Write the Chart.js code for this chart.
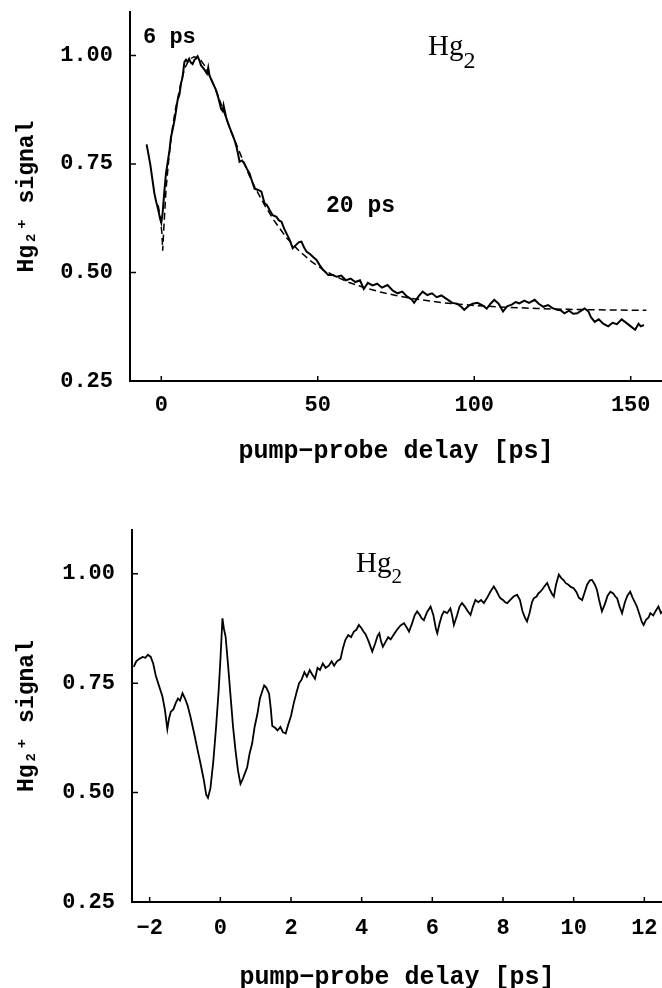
<!DOCTYPE html>
<html>
<head>
<meta charset="utf-8">
<script src="https://cdn.jsdelivr.net/npm/chart.js@4/dist/chart.umd.min.js"></script>
<style>
  html, body { margin: 0; padding: 0; background: #fff; overflow: hidden; }
  #wrap { position: relative; width: 662px; height: 988px; overflow: hidden; }
  canvas { position: absolute; left: 0; }
  #c1 { top: 0; }
  #c2 { top: 490px; }
</style>
</head>
<body>
<div id="wrap">
  <canvas id="c1" width="662" height="490"></canvas>
  <canvas id="c2" width="662" height="510"></canvas>
</div>
<script>
// ---------- data ----------
const topDelay = [-4.7,-4.1,-3.5,-2.8,-2.2,-1.6,-1.0,-0.5,0,0.4,0.9,1.5,2.0,2.6,3.1,3.6,4.2,4.7,5.2,5.8,6.3,6.8,7.4,7.9,8.4,8.9,9.4,10.0,10.6,11.1,11.6,12.2,12.7,13.3,14.0,14.6,15.0,15.4,16.2,17.0,17.5,18.3,19.1,19.6,19.9,20.8,21.8,22.6,23.4,24.0,24.5,25.0,25.8,26.6,27.4,28.2,29.0,29.8,31.0,32.0,33.0,33.8,34.6,35.6,36.8,37.6,38.4,39.2,40.0,41.0,42.0,43.0,44.0,44.8,45.6,46.4,47.6,48.6,49.6,50.6,51.7,52.6,53.3,54.8,56,57.5,59,60.5,62,63.5,64.7,66,67.5,69,70.5,72.3,74,75.5,77,78.5,80,80.8,82.2,83.5,85,86.5,88,89.5,91.6,93,94.5,96,96.8,98.2,99.5,101,102.5,104,105.2,106.4,107.8,109.2,110.5,112,113.2,114.4,116,117.5,119.3,120.6,122.1,123.6,125,126.5,127.6,128.8,130.3,131.6,132.9,134.2,135.3,136.5,137.3,138.5,139.8,141.2,142.8,144.2,145.6,147.1,148.4,149.8,151.4,152.5,153.2,154.2];
const topSignal = [0.795,0.772,0.748,0.712,0.682,0.662,0.645,0.628,0.615,0.635,0.68,0.728,0.752,0.78,0.812,0.828,0.85,0.872,0.897,0.91,0.935,0.95,0.985,0.99,0.985,0.992,0.984,0.98,0.99,0.993,0.998,0.988,0.977,0.972,0.965,0.958,0.972,0.954,0.94,0.928,0.92,0.9,0.877,0.872,0.885,0.855,0.835,0.82,0.805,0.79,0.774,0.755,0.758,0.75,0.738,0.728,0.71,0.693,0.69,0.686,0.659,0.655,0.644,0.632,0.628,0.62,0.617,0.602,0.59,0.575,0.556,0.563,0.57,0.571,0.558,0.548,0.542,0.535,0.529,0.517,0.506,0.5,0.494,0.494,0.49,0.493,0.482,0.486,0.478,0.482,0.462,0.476,0.47,0.474,0.465,0.471,0.458,0.452,0.456,0.445,0.438,0.43,0.445,0.456,0.448,0.452,0.443,0.447,0.437,0.43,0.428,0.42,0.414,0.423,0.428,0.43,0.425,0.417,0.428,0.437,0.428,0.41,0.422,0.426,0.432,0.429,0.435,0.43,0.437,0.428,0.421,0.425,0.418,0.414,0.413,0.406,0.412,0.405,0.406,0.412,0.417,0.41,0.397,0.386,0.392,0.382,0.376,0.384,0.381,0.392,0.385,0.377,0.368,0.382,0.376,0.379];

const fitDelay = [-1.0,-0.3,0.2,0.45,0.8,1.5,2.5,3.5,4.5,5.5,6.5,7.5,8.5,9.5,10.5,11.5,12.5,14,16,18,20,22,24,26,28,30,33,36,40,44,48,52,56,60,65,70,75,80,90,100,110,120,130,140,150,155];
const fitSignal = [0.655,0.625,0.59,0.55,0.60,0.69,0.77,0.83,0.875,0.91,0.945,0.97,0.985,0.993,0.997,0.995,0.99,0.975,0.945,0.91,0.87,0.83,0.795,0.76,0.725,0.695,0.655,0.62,0.58,0.55,0.525,0.505,0.49,0.477,0.465,0.455,0.447,0.44,0.43,0.424,0.42,0.417,0.415,0.414,0.413,0.413];

const botDelay = [-2.45,-2.38,-2.3,-2.2,-2.12,-2.05,-1.97,-1.9,-1.83,-1.74,-1.64,-1.57,-1.5,-1.45,-1.4,-1.33,-1.26,-1.2,-1.14,-1.07,-1.0,-0.93,-0.85,-0.74,-0.65,-0.56,-0.47,-0.4,-0.35,-0.28,-0.2,-0.12,-0.05,0.0,0.06,0.1,0.15,0.22,0.29,0.36,0.43,0.5,0.57,0.63,0.7,0.76,0.83,0.9,0.97,1.05,1.12,1.2,1.24,1.3,1.38,1.43,1.47,1.55,1.62,1.7,1.77,1.85,1.92,2.0,2.08,2.16,2.23,2.3,2.38,2.45,2.53,2.6,2.68,2.75,2.82,2.9,2.98,3.07,3.15,3.22,3.3,3.4,3.47,3.54,3.62,3.7,3.78,3.85,3.92,4.0,4.05,4.11,4.2,4.3,4.38,4.45,4.5,4.55,4.6,4.68,4.75,4.82,4.9,5.0,5.1,5.2,5.27,5.34,5.42,5.5,5.57,5.65,5.7,5.76,5.85,5.95,6.03,6.1,6.14,6.2,6.27,6.33,6.42,6.51,6.56,6.61,6.7,6.77,6.84,6.92,7.0,7.08,7.15,7.22,7.3,7.38,7.46,7.55,7.65,7.74,7.82,7.88,7.93,8.0,8.06,8.12,8.2,8.3,8.4,8.48,8.55,8.62,8.68,8.75,8.82,8.87,8.95,9.0,9.06,9.12,9.18,9.25,9.32,9.38,9.44,9.5,9.58,9.65,9.72,9.77,9.85,9.92,10.0,10.08,10.15,10.24,10.3,10.38,10.46,10.52,10.6,10.66,10.72,10.8,10.88,10.96,11.04,11.12,11.18,11.23,11.3,11.37,11.45,11.52,11.6,11.67,11.73,11.79,11.87,11.93,11.98,12.05,12.12,12.17,12.25,12.32,12.4,12.47,12.55];
const botSignal = [0.787,0.80,0.805,0.81,0.808,0.815,0.81,0.795,0.768,0.745,0.72,0.69,0.645,0.67,0.685,0.69,0.705,0.715,0.71,0.727,0.715,0.70,0.675,0.635,0.60,0.566,0.53,0.495,0.488,0.51,0.57,0.65,0.73,0.80,0.898,0.875,0.856,0.79,0.72,0.65,0.596,0.55,0.52,0.53,0.545,0.558,0.59,0.612,0.65,0.68,0.715,0.735,0.745,0.74,0.726,0.69,0.652,0.648,0.642,0.65,0.638,0.635,0.655,0.675,0.705,0.73,0.75,0.758,0.775,0.765,0.78,0.77,0.76,0.785,0.78,0.795,0.785,0.79,0.8,0.79,0.8,0.805,0.83,0.849,0.86,0.855,0.868,0.872,0.883,0.875,0.868,0.862,0.845,0.822,0.84,0.858,0.864,0.845,0.833,0.845,0.855,0.85,0.86,0.872,0.882,0.887,0.878,0.868,0.885,0.905,0.914,0.905,0.898,0.894,0.912,0.925,0.905,0.875,0.864,0.885,0.905,0.914,0.91,0.921,0.905,0.883,0.905,0.925,0.933,0.925,0.915,0.906,0.925,0.94,0.935,0.94,0.933,0.945,0.96,0.971,0.96,0.95,0.944,0.94,0.935,0.933,0.94,0.948,0.952,0.94,0.915,0.9,0.891,0.91,0.935,0.944,0.948,0.955,0.959,0.965,0.972,0.979,0.965,0.955,0.948,0.975,0.998,0.99,0.985,0.979,0.975,0.97,0.967,0.958,0.945,0.94,0.955,0.975,0.985,0.986,0.975,0.963,0.94,0.914,0.93,0.95,0.959,0.955,0.948,0.944,0.925,0.91,0.935,0.95,0.959,0.945,0.935,0.925,0.905,0.89,0.883,0.895,0.9,0.91,0.905,0.915,0.925,0.91,0.917];

const topXTicks = [0, 50, 100, 150];
const botXTicks = [-2, 0, 2, 4, 6, 8, 10, 12];
const yTicks = [0.25, 0.50, 0.75, 1.00];
const xTitle = 'pump\u2212probe delay [ps]';
const yTitle = 'Hg\u2082\u207A signal';

// ---------- helpers ----------
const MONO = '"Liberation Mono", "DejaVu Sans Mono", monospace';
const SERIF = '"Liberation Serif", "DejaVu Serif", serif';
const pts = (xs, ys) => xs.map((x, i) => ({ x: x, y: ys[i] }));
const fmtX = v => (v < 0 ? '\u2212' + Math.abs(v) : String(v));

const inwardTicks = {
  id: 'inwardTicks',
  afterDraw(chart) {
    const ctx = chart.ctx, a = chart.chartArea;
    const xs = chart.scales.x, ys = chart.scales.y;
    ctx.save();
    ctx.strokeStyle = '#000';
    ctx.lineWidth = 1.5;
    ctx.beginPath();
    xs.ticks.forEach(t => {
      const p = xs.getPixelForValue(t.value);
      ctx.moveTo(p, a.bottom); ctx.lineTo(p, a.bottom - 5);
    });
    ys.ticks.forEach(t => {
      const p = ys.getPixelForValue(t.value);
      ctx.moveTo(a.left, p); ctx.lineTo(a.left + 6, p);
    });
    ctx.stroke();
    // text notes
    const notes = (chart.options.plugins.notes && chart.options.plugins.notes.items) || [];
    ctx.fillStyle = '#000';
    ctx.textBaseline = 'alphabetic';
    ctx.textAlign = 'left';
    notes.forEach(n => {
      ctx.font = n.font;
      ctx.fillText(n.text, n.x, n.y);
      if (n.sub) {
        const w = ctx.measureText(n.text).width;
        ctx.font = n.subFont;
        ctx.fillText(n.sub, n.x + w + (n.subDx || 0), n.y + n.subDy);
      }
    });
    ctx.restore();
  }
};

function makeChart(id, datasets, xMin, xMax, xTicks, cfg) {
  return new Chart(document.getElementById(id), {
    type: 'line',
    data: { datasets: datasets },
    options: {
      responsive: false,
      animation: false,
      devicePixelRatio: 1,
      layout: { padding: { top: cfg.padTop, left: 0, right: 0, bottom: 0 } },
      plugins: {
        legend: { display: false },
        tooltip: { enabled: false },
        notes: { items: cfg.notes }
      },
      elements: { point: { radius: 0 }, line: { tension: 0 } },
      scales: {
        x: {
          type: 'linear',
          min: xMin, max: xMax,
          afterBuildTicks: s => { s.ticks = xTicks.map(v => ({ value: v })); },
          afterFit: s => { s.height = cfg.xHeight; s.paddingLeft = 0; s.paddingRight = 0; },
          grid: { display: false, drawTicks: false },
          border: { display: true, color: '#000', width: 2 },
          ticks: {
            color: '#000', padding: cfg.xTickPad, maxRotation: 0, autoSkip: false,
            font: { family: MONO, size: 22, weight: 'bold' },
            callback: v => fmtX(v)
          },
          title: {
            display: true, text: xTitle, color: '#000',
            font: { family: MONO, size: 25, weight: 'bold' },
            padding: { top: 0, bottom: cfg.xTitlePad }
          }
        },
        y: {
          type: 'linear',
          min: 0.25, max: 1.10,
          afterBuildTicks: s => { s.ticks = yTicks.map(v => ({ value: v })); },
          afterFit: s => { s.width = cfg.yWidth; s.paddingTop = 0; s.paddingBottom = 0; },
          grid: { display: false, drawTicks: false },
          border: { display: true, color: '#000', width: 2 },
          ticks: {
            color: '#000', padding: 17,
            font: { family: MONO, size: 22, weight: 'bold' },
            callback: v => Number(v).toFixed(2)
          },
          title: {
            display: true, text: yTitle, color: '#000',
            font: { family: MONO, size: 23, weight: 'bold' },
            padding: { top: 13, bottom: 0 }
          }
        }
      }
    },
    plugins: [inwardTicks]
  });
}

makeChart('c1', [
  { data: pts(topDelay, topSignal), borderColor: '#000', borderWidth: 2, fill: false },
  { data: pts(fitDelay, fitSignal), borderColor: '#000', borderWidth: 1.5, borderDash: [7, 4], fill: false }
], -10, 160, topXTicks, {
  padTop: 12, xHeight: 109, xTickPad: 11, xTitlePad: 23, yWidth: 130,
  notes: [
    { text: '6 ps', x: 143, y: 43, font: 'bold 22px ' + MONO },
    { text: '20 ps', x: 326, y: 212, font: 'bold 23px ' + MONO },
    { text: 'Hg', x: 428, y: 55, font: '29px ' + SERIF, sub: '2', subFont: '24px ' + SERIF, subDy: 13 }
  ]
});

makeChart('c2', [
  { data: pts(botDelay, botSignal), borderColor: '#000', borderWidth: 1.8, fill: false }
], -2.5, 12.5, botXTicks, {
  padTop: 40, xHeight: 98, xTickPad: 13, xTitlePad: 7, yWidth: 132,
  notes: [
    { text: 'Hg', x: 356, y: 82, font: '29px ' + SERIF, sub: '2', subFont: '21px ' + SERIF, subDy: 11 }
  ]
});
</script>
</body>
</html>
